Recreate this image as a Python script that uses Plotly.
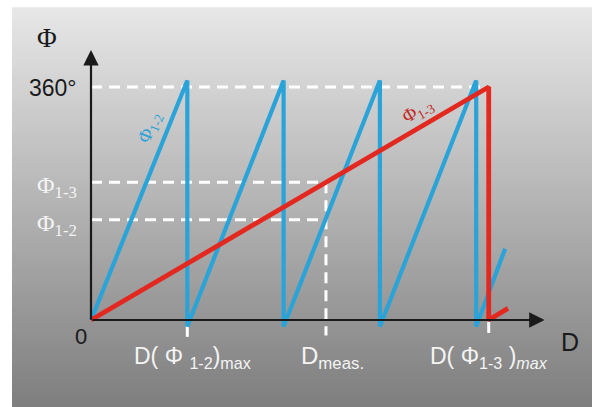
import plotly.graph_objects as go

# Distance axis in units of D(Φ1-2)max, phase axis in degrees
blue_d = [0, 1.0, 1.0, 2.0, 2.0, 3.0, 3.0, 4.0, 4.0, 4.3]
blue_phi = [0, 370, -10, 370, -10, 370, -10, 370, -10, 110]
red_d = [0, 4.13, 4.13, 4.33]
red_phi = [0, 360, 0, 18]

d12_max = 1.0
d13_max = 4.13
d_meas = 2.44
phi_full = 360
phi13 = 213
phi12 = 155

d_axis_end = 4.71
phi_axis_end = 417

BLUE = "#2aa3d9"
RED = "#e3281f"
RED_TXT = "#c42a25"
WHITE = "#f4f4f4"
INK = "#1a1a1a"

W, H = 592, 407
# pixel scale of the drawing
px_d = 96.3
px_phi = 0.6472
x_org, y_org = 91, 320

fig = go.Figure()

fig.add_trace(go.Scatter(x=blue_d, y=blue_phi, mode="lines",
                         line=dict(color=BLUE, width=4.2), hoverinfo="skip"))
fig.add_trace(go.Scatter(x=red_d, y=red_phi, mode="lines",
                         line=dict(color=RED, width=4.8), hoverinfo="skip"))

shapes = []
# grey vertical gradient backdrop, leaving a thin white frame at top/left
n = 120
top, bot = 8 / H, 0.0
left = 12 / W
c_top, c_bot = 231, 126
for i in range(n):
    y0 = bot + (1 - bot - top) * i / n
    y1 = bot + (1 - bot - top) * (i + 1) / n
    t = (i + 0.5) / n
    c = round(c_bot + (c_top - c_bot) * t)
    shapes.append(dict(type="rect", xref="paper", yref="paper",
                       x0=left, x1=1, y0=y0, y1=y1 + 0.002,
                       fillcolor=f"rgb({c},{c},{c})", line=dict(width=0),
                       layer="below"))

dash = dict(color="white", width=3, dash="11px,7px")
shapes += [
    dict(type="line", x0=0, x1=d13_max, y0=phi_full, y1=phi_full, line=dash, layer="below"),
    dict(type="line", x0=0, x1=d_meas, y0=phi13, y1=phi13, line=dash, layer="below"),
    dict(type="line", x0=0, x1=d_meas - 0.04, y0=phi12, y1=phi12, line=dash, layer="below"),
    dict(type="line", x0=d_meas, x1=d_meas, y0=phi13, y1=-24, line=dash, layer="below"),
    dict(type="line", x0=d12_max, x1=d12_max, y0=-8, y1=-26,
         line=dict(color="white", width=3), layer="below"),
    dict(type="line", x0=d13_max, x1=d13_max, y0=-3, y1=-20,
         line=dict(color="white", width=3), layer="below"),
]

ann = []
# axes with arrowheads
ann.append(dict(x=d_axis_end, y=0, ax=0, ay=0, xref="x", yref="y", axref="x", ayref="y",
                showarrow=True, arrowhead=2, arrowsize=1.4, arrowwidth=2.2,
                arrowcolor=INK, text=""))
ann.append(dict(x=0, y=phi_axis_end, ax=0, ay=-2, xref="x", yref="y", axref="x", ayref="y",
                showarrow=True, arrowhead=2, arrowsize=1.4, arrowwidth=2.2,
                arrowcolor=INK, text=""))

serif = "Liberation Serif, Times New Roman, serif"
sans = "Liberation Sans, Arial, sans-serif"

def label(text, x, y, size, color, family, xanchor="center", yanchor="middle",
          xshift=0, yshift=0, angle=0):
    ann.append(dict(text=text, x=x, y=y, xref="x", yref="y", showarrow=False,
                    font=dict(size=size, color=color, family=family),
                    xanchor=xanchor, yanchor=yanchor, xshift=xshift,
                    yshift=yshift, textangle=angle))

label("Φ", 0, phi_axis_end, 27, INK, serif, xshift=-44, yshift=12)
label("360°", 0, phi_full, 23, INK, sans, xanchor="right", xshift=-12, yshift=-1)
label("Φ<sub>1-3</sub>", 0, phi13, 24, WHITE, serif, xanchor="right", xshift=-12, yshift=-5)
label("Φ<sub>1-2</sub>", 0, phi12, 24, WHITE, serif, xanchor="right", xshift=-12, yshift=-5)
label("0", 0, 0, 22, INK, sans, xshift=-10, yshift=-16)
label("D( Φ <sub>1-2</sub>)<sub>max</sub>", d12_max, 0, 23, WHITE, sans, yshift=-37, xshift=5)
label("D<sub>meas.</sub>", d_meas, 0, 24, WHITE, sans, yshift=-37, xshift=7)
label("D( Φ<sub>1-3</sub> )<sub><i>max</i></sub>", d13_max, 0, 23, WHITE, sans, yshift=-37)
label("D", d_axis_end, 0, 25, INK, sans, xshift=25, yshift=-22)
label("Φ<sub>1-2</sub>", 0.61, 297, 19, BLUE, serif, angle=-68)
label("Φ<sub>1-3</sub>", 3.40, 323, 19, RED_TXT, serif, angle=-30)

fig.update_layout(
    width=W, height=H, margin=dict(l=0, r=0, t=0, b=0),
    paper_bgcolor="white", plot_bgcolor="rgba(0,0,0,0)",
    showlegend=False, shapes=shapes, annotations=ann,
    xaxis=dict(range=[-x_org / px_d, (W - x_org) / px_d], visible=False, fixedrange=True),
    yaxis=dict(range=[-(H - y_org) / px_phi, y_org / px_phi], visible=False, fixedrange=True),
)

fig.write_html("out.html")
